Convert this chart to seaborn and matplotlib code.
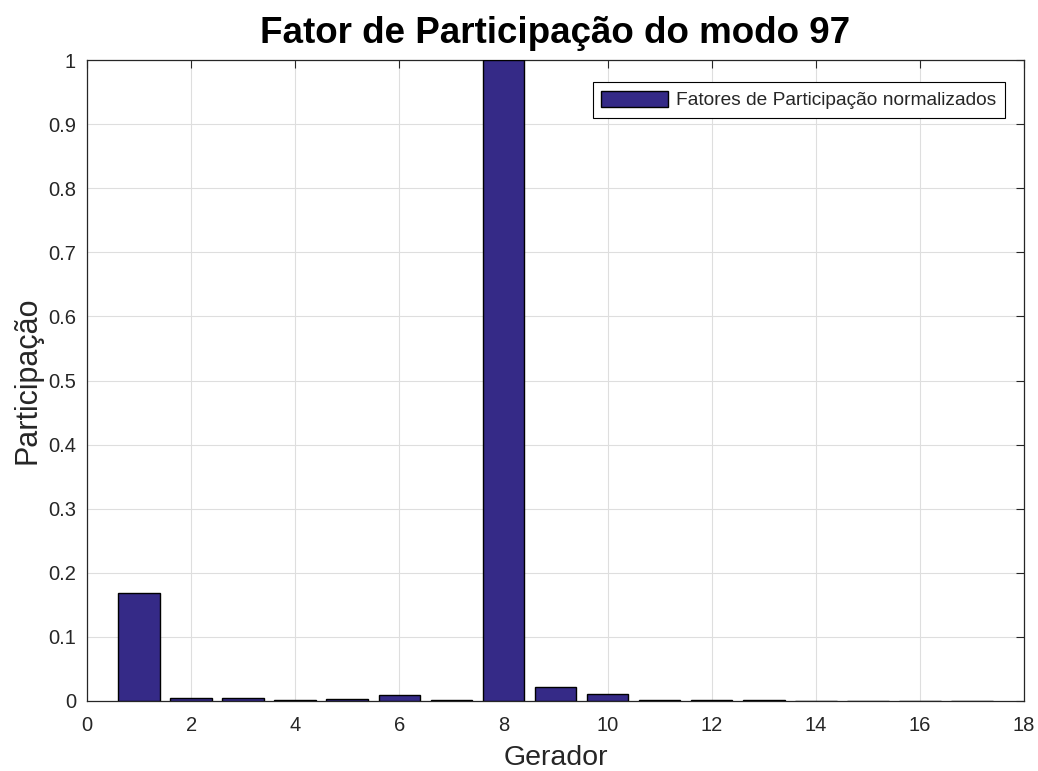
import matplotlib
matplotlib.use("Agg")
import matplotlib.pyplot as plt
import seaborn as sns
import pandas as pd
import numpy as np

geradores = list(range(1, 18))
participacao = [0.168, 0.0045, 0.0045, 0.002, 0.003, 0.009, 0.002, 1.0,
                0.022, 0.0106, 0.0015, 0.0015, 0.001, 0.0005, 0.0005, 0.0005, 0.0005]
rotulo_serie = "Fatores de Participação normalizados"
y_ticks = [0, 0.1, 0.2, 0.3, 0.4, 0.5, 0.6, 0.7, 0.8, 0.9, 1]
y_tick_labels = ["0", "0.1", "0.2", "0.3", "0.4", "0.5", "0.6", "0.7", "0.8", "0.9", "1"]
x_ticks = list(range(0, 19, 2))

sns.set_style("white")
plt.rcParams["font.family"] = ["Liberation Sans", "DejaVu Sans"]

df = pd.DataFrame({"Gerador": geradores, "Participacao": participacao})

fig = plt.figure(figsize=(10.38, 7.71), dpi=100)
ax = fig.add_axes([87 / 1038, 1 - 701 / 771, (1024 - 87) / 1038, (701 - 60) / 771])

sns.barplot(data=df, x="Gerador", y="Participacao", native_scale=True,
            color="#352A87", saturation=1, width=0.8, edgecolor="black",
            linewidth=1.0, label=rotulo_serie, ax=ax, zorder=3)

ax.set_xlim(0, 18)
ax.set_ylim(0, 1)
ax.set_xticks(x_ticks)
ax.set_xticklabels([str(v) for v in x_ticks])
ax.set_yticks(y_ticks)
ax.set_yticklabels(y_tick_labels)
ax.grid(True, color="#dedede", linewidth=0.8, zorder=0)
ax.set_axisbelow(True)
for s in ax.spines.values():
    s.set_color("#262626")
    s.set_linewidth(0.9)
ax.tick_params(direction="in", top=True, right=True, length=6, width=0.8,
               colors="#262626", labelsize=14.5)
ax.tick_params(axis="x", pad=11)
ax.tick_params(axis="y", pad=8)

ax.set_xlabel("Gerador", fontsize=20.5, color="#262626")
ax.set_ylabel("Participação", fontsize=22, color="#262626")
ax.xaxis.set_label_coords(0.5, -0.068)
ax.yaxis.set_label_coords(-0.048, 0.5)
ax.set_title("Fator de Participação do modo 97", fontsize=26.5, fontweight="bold",
             color="black", pad=12)

leg = ax.legend(loc="upper right", bbox_to_anchor=(0.9797, 0.9657), borderaxespad=0,
                fontsize=13.8, frameon=True, fancybox=False, edgecolor="black",
                framealpha=1, handlelength=3.5, handleheight=0.9, handletextpad=0.4,
                borderpad=0.45)
leg.get_frame().set_linewidth(0.8)

fig.savefig("out.png", dpi=100)
